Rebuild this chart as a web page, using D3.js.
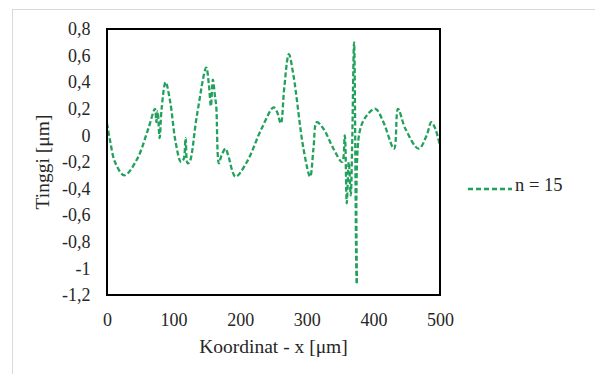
<!DOCTYPE html>
<html>
<head>
<meta charset="utf-8">
<script src="https://cdn.jsdelivr.net/npm/d3@7"></script>
<style>
  html, body { margin: 0; padding: 0; background: #fff; }
  svg { display: block; }
</style>
</head>
<body>
<svg id="chart" width="595" height="374"></svg>
<script>
// Surface profile, n = 15
const xValues = [0, 5, 12, 26, 45, 62, 72, 74, 76, 79, 82, 88, 95, 103, 111, 115, 118, 121, 124, 135,
  149, 153, 156, 159, 162, 164, 168, 172, 178, 182, 193, 210, 232, 250, 255, 261, 266, 273, 280, 295,
  305, 310, 315, 325, 340, 353, 357, 360, 363, 366, 368, 371, 375, 379, 390, 403, 415, 431, 437, 448,
  468, 480, 487, 493, 500];
const heightValues = [0.09, -0.05, -0.2, -0.3, -0.18, 0.05, 0.2, 0.1, 0.18, -0.02, 0.2, 0.4, 0.25, -0.05, -0.2, -0.18, -0.02, -0.21, -0.2, 0.15,
  0.51, 0.38, 0.22, 0.42, 0.3, 0.22, -0.21, -0.15, -0.1, -0.15, -0.31, -0.2, 0.05, 0.21, 0.18, 0.09, 0.35, 0.61, 0.45, -0.1,
  -0.31, -0.1, 0.1, 0.05, -0.1, -0.2, 0.0, -0.51, -0.2, -0.45, -0.1, 0.7, -1.12, 0.02, 0.15, 0.2, 0.1, -0.1, 0.2, 0.05,
  -0.1, 0.0, 0.1, 0.05, -0.08];
const seriesName = "n = 15";
const xTicks = [0, 100, 200, 300, 400, 500];
const yTicks = [0.8, 0.6, 0.4, 0.2, 0, -0.2, -0.4, -0.6, -0.8, -1, -1.2];

const FONT = "'Liberation Serif', 'Times New Roman', 'DejaVu Serif', serif";
const INK = "#262626";
const svg = d3.select("#chart");
const plot = { left: 107, right: 440, top: 29, bottom: 295 };
const green = "#22a15c";

// chart area frame
svg.append("rect")
  .attr("x", 12.5).attr("y", 9.5)
  .attr("width", 640).attr("height", 400)
  .attr("fill", "#fff").attr("stroke", "#d9d9d9").attr("stroke-width", 1);

const x = d3.scaleLinear().domain([0, 500]).range([plot.left, plot.right]);
const y = d3.scaleLinear().domain([-1.2, 0.8]).range([plot.bottom, plot.top]);

const fmt = v => (v === 0 ? "0" : String(+v.toFixed(1)).replace(".", ","));

// y axis labels
const yAxis = d3.axisLeft(y).tickValues(yTicks).tickFormat(fmt).tickSize(0).tickPadding(16.5);
const gy = svg.append("g").attr("transform", `translate(${plot.left},0)`).call(yAxis)
  .attr("font-family", FONT).attr("font-size", 18);
gy.select(".domain").remove();
gy.selectAll("text").attr("fill", INK);

// x axis labels
const xAxis = d3.axisBottom(x).tickValues(xTicks).tickFormat(d3.format("d")).tickSize(0).tickPadding(18);
const gx = svg.append("g").attr("transform", `translate(0,${plot.bottom})`).call(xAxis)
  .attr("font-family", FONT).attr("font-size", 18);
gx.select(".domain").remove();
gx.selectAll("text").attr("fill", INK);

// data line
const pts = xValues.map((v, i) => [v, heightValues[i]]);
const line = d3.line().x(d => x(d[0])).y(d => y(d[1])).curve(d3.curveCatmullRom.alpha(0.5));
svg.append("clipPath").attr("id", "plotClip").append("rect")
  .attr("x", plot.left).attr("y", plot.top)
  .attr("width", plot.right - plot.left).attr("height", plot.bottom - plot.top);
svg.append("path")
  .datum(pts)
  .attr("d", line)
  .attr("fill", "none")
  .attr("stroke", green)
  .attr("stroke-width", 2.3)
  .attr("stroke-dasharray", "5,2.5")
  .attr("clip-path", "url(#plotClip)");

// plot border
svg.append("rect")
  .attr("x", plot.left).attr("y", plot.top)
  .attr("width", plot.right - plot.left).attr("height", plot.bottom - plot.top)
  .attr("fill", "none").attr("stroke", "#000").attr("stroke-width", 2);

// axis titles
svg.append("text")
  .attr("x", (plot.left + plot.right) / 2).attr("y", 353)
  .attr("text-anchor", "middle").attr("font-size", 19.5)
  .attr("font-family", FONT).attr("fill", INK)
  .text("Koordinat - x [μm]");
svg.append("text")
  .attr("transform", "translate(49,162) rotate(-90)")
  .attr("text-anchor", "middle").attr("font-size", 19.5)
  .attr("font-family", FONT).attr("fill", INK)
  .text("Tinggi [μm]");

// legend
const lg = svg.append("g");
lg.append("line")
  .attr("x1", 468).attr("x2", 512).attr("y1", 189).attr("y2", 189)
  .attr("stroke", green).attr("stroke-width", 2.3).attr("stroke-dasharray", "5,3");
lg.append("text")
  .attr("x", 515).attr("y", 191).attr("font-size", 18.5)
  .attr("font-family", FONT).attr("fill", INK)
  .text(seriesName);
</script>
</body>
</html>
